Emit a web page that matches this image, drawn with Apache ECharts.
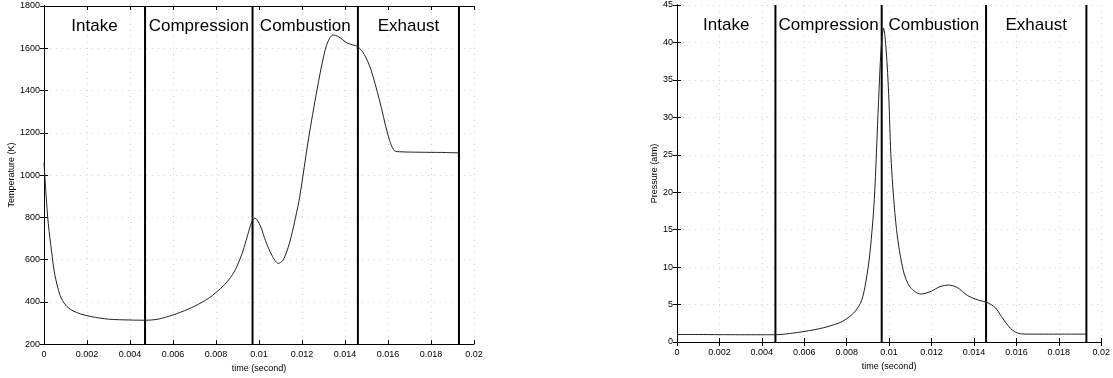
<!DOCTYPE html>
<html>
<head>
<meta charset="utf-8">
<script src="https://cdn.jsdelivr.net/npm/echarts@6/dist/echarts.min.js"></script>
<style>
html,body{margin:0;padding:0;background:#fff;}
#c{width:1113px;height:378px;}
</style>
</head>
<body>
<div id="c"></div>
<script>
// ---- Data ----
const tempTime = [0, 0.0001, 0.0002, 0.00035, 0.0005, 0.00075, 0.001, 0.0013, 0.0017, 0.0022, 0.003, 0.004, 0.0047, 0.0053, 0.006, 0.0067, 0.0073, 0.0077, 0.0082, 0.0086, 0.0089, 0.0092, 0.0094, 0.0096, 0.0097, 0.0098, 0.0099, 0.0101, 0.0103, 0.0106, 0.0109, 0.0111, 0.0113, 0.0115, 0.0117, 0.0119, 0.0123, 0.0127, 0.0130, 0.0132, 0.01345, 0.0137, 0.0141, 0.0146, 0.0149, 0.0152, 0.0156, 0.0160, 0.0163, 0.0166, 0.0175, 0.0185, 0.0193];
const tempK = [1060, 900, 770, 640, 530, 430, 385, 360, 343, 330, 318, 314, 313, 318, 338, 365, 395, 420, 462, 505, 552, 625, 690, 760, 785, 795, 790, 750, 690, 620, 582, 595, 640, 710, 800, 900, 1170, 1404, 1559, 1630, 1663, 1655, 1625, 1607, 1570, 1500, 1356, 1190, 1115, 1110, 1108, 1107, 1105];

const presTime = [0, 0.001, 0.002, 0.003, 0.004, 0.0047, 0.0055, 0.0062, 0.0069, 0.0076, 0.008, 0.0084, 0.0087, 0.0089, 0.0091, 0.0093, 0.0095, 0.00962, 0.00974, 0.00986, 0.00998, 0.0101, 0.01035, 0.01067, 0.0110, 0.0115, 0.0120, 0.0124, 0.0128, 0.0132, 0.0137, 0.0142, 0.0146, 0.0150, 0.0153, 0.0156, 0.0159, 0.0162, 0.0166, 0.0175, 0.0185, 0.0193];
const presAtm = [1.0, 1.0, 0.98, 0.97, 0.97, 0.98, 1.2, 1.5, 1.9, 2.5, 3.1, 4.1, 5.5, 8, 12, 19, 32, 39, 41.9, 39, 33, 24, 15, 9.5, 7.3, 6.4, 6.8, 7.4, 7.6, 7.3, 6.2, 5.6, 5.3, 4.6, 3.4, 2.2, 1.4, 1.1, 1.05, 1.05, 1.05, 1.05];

const phaseNames = ['Intake', 'Compression', 'Combustion', 'Exhaust'];
const tempPhaseBounds = [0, 0.0047, 0.0097, 0.0146, 0.0193];
const presPhaseBounds = [0, 0.00464, 0.00965, 0.01457, 0.0193];

const xTickLabels = ['0', '0.002', '0.004', '0.006', '0.008', '0.01', '0.012', '0.014', '0.016', '0.018', '0.02'];
const tempTickLabels = ['200', '400', '600', '800', '1000', '1200', '1400', '1600', '1800'];
const presTickLabels = ['0', '5', '10', '15', '20', '25', '30', '35', '40', '45'];

// ---- Chart ----
const FONT = 'Liberation Sans, Arial, sans-serif';
const chart = echarts.init(document.getElementById('c'), null, {renderer: 'canvas'});

function zip(a, b) { return a.map((v, i) => [v, b[i]]); }

const axisLine = {show: true, lineStyle: {color: '#000', width: 1}};
const tick = {show: true, inside: true, length: 4, lineStyle: {color: '#000'}};
const split = {show: true, lineStyle: {color: '#d4d4d4', type: [1, 5], width: 1}};
const lbl = {color: '#000', fontSize: 9, fontFamily: FONT};

function xAxes(gi) {
  return [
    {gridIndex: gi, type: 'value', min: 0, max: 0.02, interval: 0.002,
     name: 'time (second)', nameLocation: 'middle', nameGap: 17,
     nameTextStyle: {color: '#000', fontSize: 9, fontFamily: FONT},
     axisLine: axisLine, axisTick: tick, splitLine: split,
     axisLabel: Object.assign({margin: 6, formatter: (v, i) => xTickLabels[i]}, lbl)},
    {gridIndex: gi, type: 'value', position: 'top', min: 0, max: 0.02, interval: 0.002,
     axisLine: axisLine, axisTick: tick, splitLine: {show: false}, axisLabel: {show: false}}
  ];
}

function yAxes(gi, min, max, interval, name, gap, labels) {
  return [
    {gridIndex: gi, type: 'value', min: min, max: max, interval: interval,
     name: name, nameLocation: 'middle', nameGap: gap, nameRotate: 90,
     nameTextStyle: {color: '#000', fontSize: 9, fontFamily: FONT},
     axisLine: axisLine, axisTick: tick, splitLine: split,
     axisLabel: Object.assign({margin: 4, formatter: (v, i) => labels[i]}, lbl)},
    {gridIndex: gi, type: 'value', position: 'right', min: min, max: max, interval: interval,
     axisLine: axisLine, axisTick: tick, splitLine: {show: false}, axisLabel: {show: false}}
  ];
}

function phaseSeries(bounds, xi, yi, ymin, ymax) {
  const out = [];
  out.push({type: 'line', xAxisIndex: xi, yAxisIndex: yi, data: [], silent: true,
    markArea: {silent: true, itemStyle: {color: 'rgba(0,0,0,0)'},
      label: {show: true, position: 'insideTop', distance: 12, color: '#000', fontSize: 17, fontFamily: FONT},
      data: phaseNames.map((n, i) => [{xAxis: bounds[i], name: n}, {xAxis: bounds[i + 1]}])}});
  bounds.slice(1).forEach(b => {
    out.push({type: 'line', xAxisIndex: xi, yAxisIndex: yi, silent: true, showSymbol: false,
      data: [[b, ymin], [b, ymax]], lineStyle: {color: '#000', width: 2}, z: 3});
  });
  return out;
}

const option = {
  animation: false,
  backgroundColor: '#fff',
  grid: [
    {left: 44, top: 6, width: 430, height: 339},
    {left: 677, top: 5, width: 431, height: 337}
  ],
  xAxis: [].concat(xAxes(0), xAxes(1)),
  yAxis: [].concat(
    yAxes(0, 200, 1800, 200, 'Temperature (K)', 27, tempTickLabels),
    yAxes(1, 0, 45, 5, 'Pressure (atm)', 18, presTickLabels)
  ),
  series: [].concat(
    [{type: 'line', xAxisIndex: 0, yAxisIndex: 0, data: zip(tempTime, tempK),
      smooth: 0.3, showSymbol: false, lineStyle: {color: '#222', width: 1}, z: 4}],
    phaseSeries(tempPhaseBounds, 0, 0, 200, 1800),
    [{type: 'line', xAxisIndex: 2, yAxisIndex: 2, data: zip(presTime, presAtm),
      smooth: 0.3, showSymbol: false, lineStyle: {color: '#222', width: 1}, z: 4}],
    phaseSeries(presPhaseBounds, 2, 2, 0, 45)
  )
};
chart.setOption(option);
</script>
</body>
</html>
